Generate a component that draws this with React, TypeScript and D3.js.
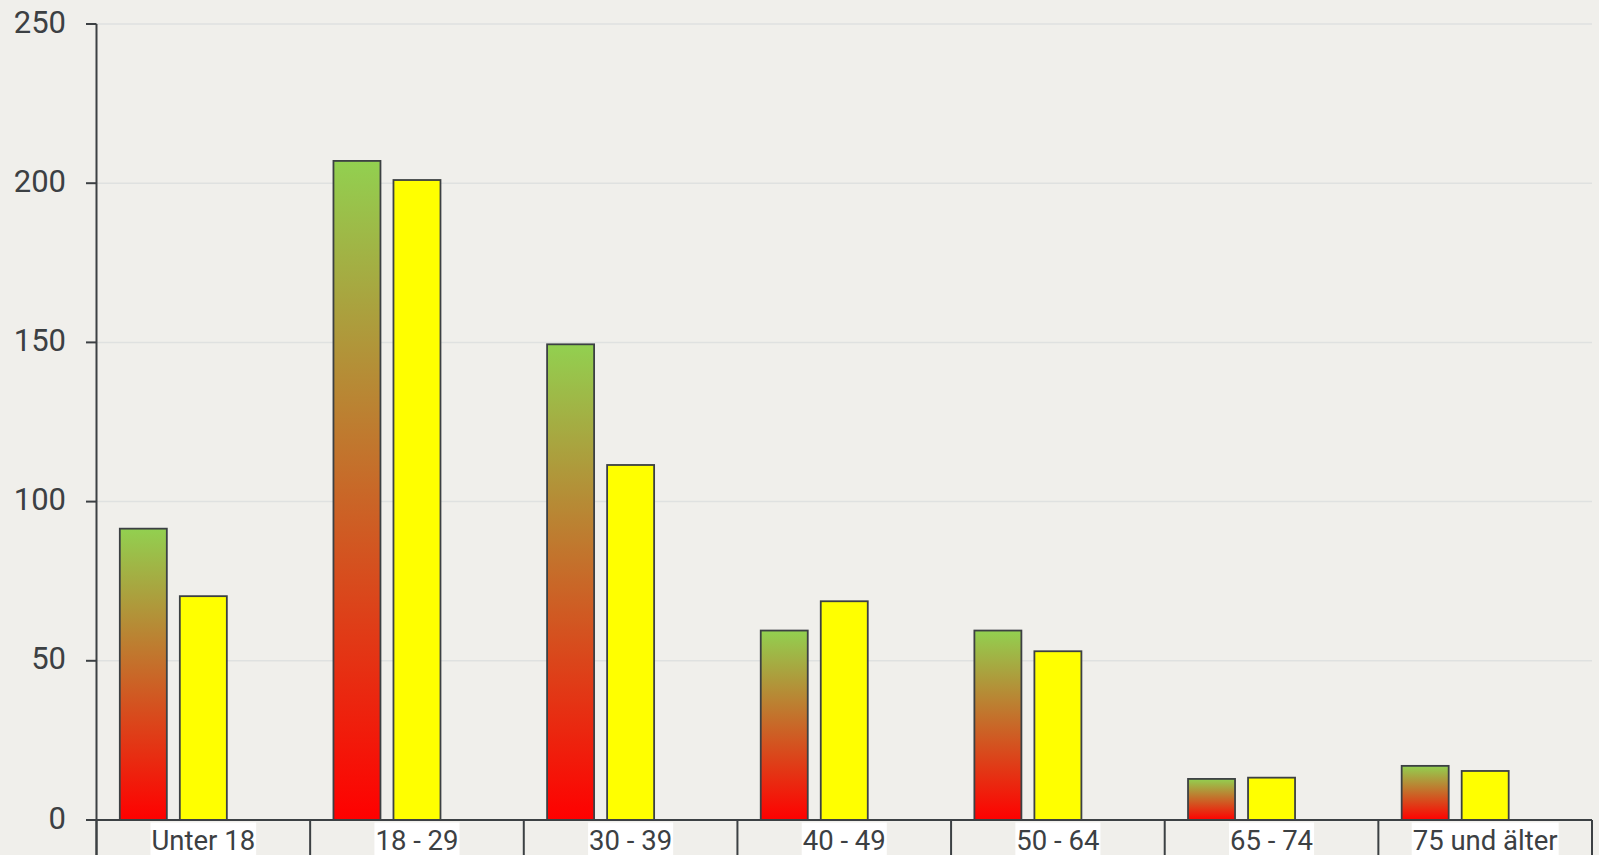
import React, { useEffect, useRef } from "react";
import * as d3 from "d3";

const categories = ["Unter 18", "18 - 29", "30 - 39", "40 - 49", "50 - 64", "65 - 74", "75 und älter"];
const seriesA = [91.5, 207, 149.4, 59.5, 59.5, 12.9, 17];
const seriesB = [70.3, 201, 111.5, 68.7, 53, 13.3, 15.4];
const seriesKeys = ["A", "B"];
const yTicks = [0, 50, 100, 150, 200, 250];

const W = 1599;
const H = 855;

export default function App() {
  const ref = useRef<SVGSVGElement | null>(null);

  useEffect(() => {
    const svg = d3.select(ref.current);
    svg.selectAll("*").remove();

    const left = 96.5;
    const right = 1592;
    const top = 24;
    const bottom = 820;
    const ink = "#3c4043";

    svg.append("rect").attr("width", W).attr("height", H).attr("fill", "#f0efeb");

    const defs = svg.append("defs");
    const grad = defs
      .append("linearGradient")
      .attr("id", "gA")
      .attr("x1", 0)
      .attr("y1", 0)
      .attr("x2", 0)
      .attr("y2", 1);
    grad.append("stop").attr("offset", "0%").attr("stop-color", "#92d050");
    grad.append("stop").attr("offset", "100%").attr("stop-color", "#ff0000");

    const y = d3.scaleLinear().domain([0, 250]).range([bottom, top]);
    const x0 = d3.scaleBand<string>().domain(categories).range([left, right]).padding(0);
    const cw = x0.bandwidth();
    const x1 = d3
      .scaleBand<string>()
      .domain(seriesKeys)
      .range([cw * 0.0787, cw * 0.6405])
      .paddingInner(0.2167)
      .paddingOuter(0.2167 / 2);

    // grid
    svg
      .append("g")
      .selectAll("line")
      .data(yTicks.filter((t) => t > 0))
      .join("line")
      .attr("x1", left)
      .attr("x2", right)
      .attr("y1", (d) => y(d))
      .attr("y2", (d) => y(d))
      .attr("stroke", "#dfe1e0")
      .attr("stroke-width", 1.5);

    // bars
    const g = svg.append("g");
    categories.forEach((c, i) => {
      const vals = [seriesA[i], seriesB[i]];
      vals.forEach((v, j) => {
        g.append("rect")
          .attr("x", (x0(c) as number) + (x1(seriesKeys[j]) as number))
          .attr("y", y(v))
          .attr("width", x1.bandwidth())
          .attr("height", y(0) - y(v))
          .attr("fill", j === 0 ? "url(#gA)" : "#ffff00")
          .attr("stroke", ink)
          .attr("stroke-width", 1.8);
      });
    });

    // y axis
    svg
      .append("line")
      .attr("x1", left)
      .attr("x2", left)
      .attr("y1", top)
      .attr("y2", H)
      .attr("stroke", ink)
      .attr("stroke-width", 2);
    const yt = svg.append("g");
    yTicks.forEach((t) => {
      yt.append("line")
        .attr("x1", left - 10.5)
        .attr("x2", left)
        .attr("y1", y(t))
        .attr("y2", y(t))
        .attr("stroke", ink)
        .attr("stroke-width", 2);
      yt.append("text")
        .attr("x", 66)
        .attr("y", y(t) + 8.5)
        .attr("text-anchor", "end")
        .attr("font-family", "Roboto, sans-serif")
        .attr("font-size", 31)
        .attr("fill", ink)
        .text(String(t));
    });

    // x axis
    svg
      .append("line")
      .attr("x1", left - 10.5)
      .attr("x2", right)
      .attr("y1", bottom)
      .attr("y2", bottom)
      .attr("stroke", ink)
      .attr("stroke-width", 2);
    const bounds = categories.map((c) => x0(c) as number).concat([right]);
    bounds.forEach((b) => {
      svg
        .append("line")
        .attr("x1", b)
        .attr("x2", b)
        .attr("y1", bottom)
        .attr("y2", H)
        .attr("stroke", ink)
        .attr("stroke-width", 2);
    });
    const xl = svg.append("g");
    categories.forEach((c) => {
      const cx = (x0(c) as number) + cw / 2;
      const bg = xl.append("rect").attr("fill", "#ffffff");
      const t = xl
        .append("text")
        .attr("x", cx)
        .attr("y", 850)
        .attr("text-anchor", "middle")
        .attr("font-family", "Roboto, sans-serif")
        .attr("font-size", 27.5)
        .attr("fill", ink)
        .text(c);
      const bb = (t.node() as SVGTextElement).getBBox();
      bg.attr("x", bb.x - 1)
        .attr("y", 822.5)
        .attr("width", bb.width + 2)
        .attr("height", H - 822.5);
    });
  }, []);

  return (
    <svg
      ref={ref}
      width={W}
      height={H}
      style={{ position: "fixed", left: 0, top: 0, display: "block" }}
    />
  );
}
